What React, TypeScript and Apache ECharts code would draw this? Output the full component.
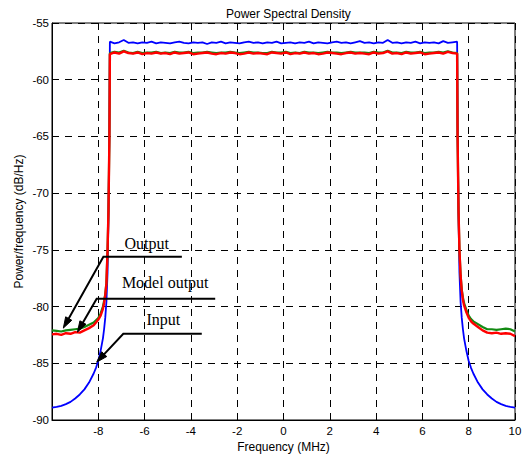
import React, { useEffect, useRef } from "react";
import * as echarts from "echarts";

// Frequency samples (MHz): dense near the band edges, 0.2 MHz across the passband
const freq = [
  -10, -9.8, -9.6, -9.4, -9.2, -9.0, -8.8, -8.6, -8.4, -8.2, -8.1, -8.0, -7.9, -7.8, -7.75, -7.7, -7.65, -7.6, -7.56, -7.52,
  -7.5, -7.3, -7.1, -6.9, -6.7, -6.5, -6.3, -6.1, -5.9, -5.7,
  -5.5, -5.3, -5.1, -4.9, -4.7, -4.5, -4.3, -4.1, -3.9, -3.7,
  -3.5, -3.3, -3.1, -2.9, -2.7, -2.5, -2.3, -2.1, -1.9, -1.7,
  -1.5, -1.3, -1.1, -0.9, -0.7, -0.5, -0.3, -0.1, 0.1, 0.3,
  0.5, 0.7, 0.9, 1.1, 1.3, 1.5, 1.7, 1.9, 2.1, 2.3,
  2.5, 2.7, 2.9, 3.1, 3.3, 3.5, 3.7, 3.9, 4.1, 4.3,
  4.5, 4.7, 4.9, 5.1, 5.3, 5.5, 5.7, 5.9, 6.1, 6.3,
  6.5, 6.7, 6.9, 7.1, 7.3, 7.5,
  7.52, 7.56, 7.6, 7.65, 7.7, 7.75, 7.8, 7.9, 8.0, 8.1, 8.2, 8.4, 8.6, 8.8, 9.0, 9.2, 9.4, 9.6, 9.8, 10,
];

// Input PSD (dB/Hz)
const inputPsd = [
  -88.9, -88.85, -88.75, -88.6, -88.4, -88.1, -87.75, -87.3, -86.7, -85.9, -85.4, -84.8, -83.9, -82.8, -82.0, -81.0, -79.6, -77.0, -72.0, -64.0,
  -56.65, -56.8, -56.7, -56.5, -56.75, -56.7, -56.8, -56.7, -56.75, -56.65,
  -56.8, -56.7, -56.75, -56.8, -56.7, -56.65, -56.75, -56.8, -56.7, -56.75,
  -56.7, -56.85, -56.7, -56.75, -56.65, -56.8, -56.7, -56.75, -56.8, -56.7,
  -56.65, -56.75, -56.7, -56.8, -56.7, -56.75, -56.65, -56.8, -56.75, -56.7,
  -56.8, -56.7, -56.75, -56.65, -56.8, -56.7, -56.75, -56.8, -56.7, -56.65,
  -56.75, -56.7, -56.8, -56.7, -56.6, -56.75, -56.7, -56.8, -56.7, -56.75,
  -56.5, -56.75, -56.7, -56.8, -56.7, -56.75, -56.65, -56.8, -56.7, -56.75,
  -56.7, -56.8, -56.6, -56.75, -56.7, -56.65,
  -64.0, -72.0, -77.0, -79.6, -81.0, -82.0, -82.8, -83.9, -84.8, -85.4, -85.9, -86.7, -87.3, -87.75, -88.1, -88.4, -88.6, -88.75, -88.85, -88.9,
];

// Output PSD (dB/Hz)
const outputPsd = [
  -82.1, -82.15, -82.2, -82.1, -82.05, -82.0, -81.95, -81.8, -81.6, -81.4, -81.2, -81.0, -80.6, -80.0, -79.5, -78.9, -77.9, -75.0, -71.5, -65.0,
  -57.65, -57.55, -57.6, -57.45, -57.6, -57.65, -57.55, -57.65, -57.6, -57.6,
  -57.55, -57.65, -57.6, -57.65, -57.55, -57.6, -57.6, -57.55, -57.65, -57.6,
  -57.6, -57.55, -57.6, -57.65, -57.6, -57.6, -57.55, -57.6, -57.65, -57.6,
  -57.55, -57.6, -57.6, -57.65, -57.65, -57.55, -57.6, -57.6, -57.55, -57.65,
  -57.6, -57.65, -57.55, -57.6, -57.6, -57.65, -57.6, -57.55, -57.6, -57.6,
  -57.65, -57.6, -57.55, -57.6, -57.6, -57.6, -57.65, -57.55, -57.6, -57.6,
  -57.45, -57.6, -57.6, -57.65, -57.55, -57.6, -57.6, -57.55, -57.65, -57.6,
  -57.6, -57.55, -57.6, -57.5, -57.6, -57.65,
  -65.0, -71.5, -75.0, -77.2, -78.5, -79.2, -79.7, -80.3, -80.8, -81.1, -81.3, -81.55, -81.8, -82.0, -82.0, -82.05, -82.0, -81.95, -82.0, -82.2,
];

// Model output PSD (dB/Hz)
const modelPsd = [
  -82.45, -82.4, -82.5, -82.35, -82.4, -82.25, -82.3, -82.1, -81.9, -81.65, -81.4, -81.15, -80.8, -80.2, -79.7, -79.0, -78.0, -75.0, -71.5, -65.0,
  -57.75, -57.6, -57.7, -57.5, -57.65, -57.7, -57.6, -57.75, -57.65, -57.7,
  -57.6, -57.7, -57.65, -57.75, -57.6, -57.7, -57.65, -57.6, -57.75, -57.7,
  -57.65, -57.6, -57.7, -57.75, -57.65, -57.7, -57.6, -57.65, -57.75, -57.7,
  -57.6, -57.7, -57.65, -57.7, -57.75, -57.6, -57.65, -57.7, -57.6, -57.75,
  -57.65, -57.7, -57.6, -57.7, -57.65, -57.75, -57.7, -57.6, -57.65, -57.7,
  -57.75, -57.65, -57.6, -57.7, -57.65, -57.7, -57.75, -57.6, -57.7, -57.65,
  -57.5, -57.7, -57.65, -57.75, -57.6, -57.7, -57.65, -57.6, -57.75, -57.7,
  -57.65, -57.6, -57.7, -57.55, -57.65, -57.7,
  -65.0, -71.5, -75.0, -77.3, -78.6, -79.4, -79.9, -80.5, -81.0, -81.3, -81.5, -81.8, -82.1, -82.3, -82.35, -82.3, -82.4, -82.35, -82.4, -82.6,
];

// Callouts in data coordinates: label centre, tip on the curve, elbow, end of the horizontal leader
const callouts = [
  { label: "Output", text: [-5.91, -74.4], tip: [-9.51, -81.9], elbow: [-7.78, -75.6], end: [-4.39, -75.6] },
  { label: "Model output", text: [-5.11, -77.9], tip: [-8.9, -82.25], elbow: [-8.07, -79.3], end: [-2.95, -79.3] },
  { label: "Input", text: [-5.19, -81.1], tip: [-8.07, -84.9], elbow: [-6.92, -82.4], end: [-3.53, -82.4] },
];

const SANS = '"Liberation Sans", Arial, sans-serif';
const SERIF = '"Liberation Serif", "Times New Roman", serif';

function pairs(ys: number[]) {
  return freq.map((f, i) => [f, ys[i]]);
}

export default function App() {
  const ref = useRef<HTMLDivElement>(null);

  useEffect(() => {
    if (!ref.current) return;
    const chart = echarts.init(ref.current, null, { renderer: "svg" });

    const dashed = { show: true, lineStyle: { color: "#000", width: 1, type: [7, 6] as any } };

    chart.setOption({
      animation: false,
      backgroundColor: "#fff",
      title: {
        text: "Power Spectral Density",
        left: 221,
        top: 3,
        textStyle: { fontFamily: SANS, fontSize: 12, fontWeight: "normal", color: "#000" },
      },
      grid: {
        left: 52,
        right: 13,
        top: 23,
        bottom: 36,
        show: true,
        borderColor: "#000",
        borderWidth: 1,
        backgroundColor: "transparent",
      },
      xAxis: {
        type: "value",
        min: -10,
        max: 10,
        interval: 2,
        name: "Frequency (MHz)",
        nameLocation: "middle",
        nameGap: 21,
        nameMoveOverlap: false,
        nameTextStyle: { fontFamily: SANS, fontSize: 12, color: "#000" },
        axisLine: { show: true, onZero: false, lineStyle: { color: "#000", width: 1 } },
        axisTick: { show: true, inside: true, length: 4, lineStyle: { color: "#000" } },
        axisLabel: {
          fontFamily: SANS,
          fontSize: 11.5,
          color: "#000",
          margin: 5,
          formatter: (v: number) => (v === -10 ? "" : String(v)),
        },
        splitLine: dashed,
      },
      yAxis: {
        type: "value",
        min: -90,
        max: -55,
        interval: 5,
        name: "Power/frequency (dB/Hz)",
        nameLocation: "middle",
        nameGap: 27,
        nameMoveOverlap: false,
        nameTextStyle: { fontFamily: SANS, fontSize: 12, color: "#000" },
        axisLine: { show: true, onZero: false, lineStyle: { color: "#000", width: 1 } },
        axisTick: { show: true, inside: true, length: 4, lineStyle: { color: "#000" } },
        axisLabel: { fontFamily: SANS, fontSize: 11.5, color: "#000", margin: 3 },
        splitLine: dashed,
      },
      series: [
        {
          name: "Input",
          type: "line",
          data: pairs(inputPsd),
          showSymbol: false,
          symbol: "none",
          lineStyle: { color: "#0000ff", width: 1.8 },
          z: 2,
        },
        {
          name: "Output",
          type: "line",
          data: pairs(outputPsd),
          showSymbol: false,
          symbol: "none",
          lineStyle: { color: "#138a13", width: 2.2 },
          z: 3,
        },
        {
          name: "Model output",
          type: "line",
          data: pairs(modelPsd),
          showSymbol: false,
          symbol: "none",
          lineStyle: { color: "#ff0000", width: 2.4 },
          z: 4,
        },
      ],
    });

    // Callout leaders and arrowheads, placed from data coordinates
    const px = (p: number[]) => chart.convertToPixel({ gridIndex: 0 }, p) as number[];
    const elements: any[] = [];
    callouts.forEach((c) => {
      const tip = px(c.tip);
      const elbow = px(c.elbow);
      const end = px(c.end);
      const t = px(c.text);
      const dx = tip[0] - elbow[0];
      const dy = tip[1] - elbow[1];
      const len = Math.hypot(dx, dy);
      const ux = dx / len;
      const uy = dy / len;
      const headLen = 11;
      const headHalf = 3.5;
      const bx = tip[0] - ux * headLen;
      const by = tip[1] - uy * headLen;
      elements.push({
        type: "polyline",
        z: 100,
        shape: { points: [end, elbow, [bx + ux * 2, by + uy * 2]] },
        style: { stroke: "#000", lineWidth: 2, fill: null },
      });
      elements.push({
        type: "polygon",
        z: 100,
        shape: {
          points: [
            tip,
            [bx - uy * headHalf, by + ux * headHalf],
            [bx + uy * headHalf, by - ux * headHalf],
          ],
        },
        style: { fill: "#000", stroke: "#000", lineWidth: 1 },
      });
      elements.push({
        type: "text",
        z: 100,
        x: t[0],
        y: t[1],
        style: {
          text: c.label,
          fill: "#000",
          font: `16px ${SERIF}`,
          align: "center",
          verticalAlign: "middle",
          textAlign: "center",
          textVerticalAlign: "middle",
        },
      });
    });
    chart.setOption({ graphic: elements });

    return () => chart.dispose();
  }, []);

  return (
    <div
      ref={ref}
      style={{ position: "fixed", left: 0, top: 0, width: 528, height: 458, background: "#fff" }}
    />
  );
}
